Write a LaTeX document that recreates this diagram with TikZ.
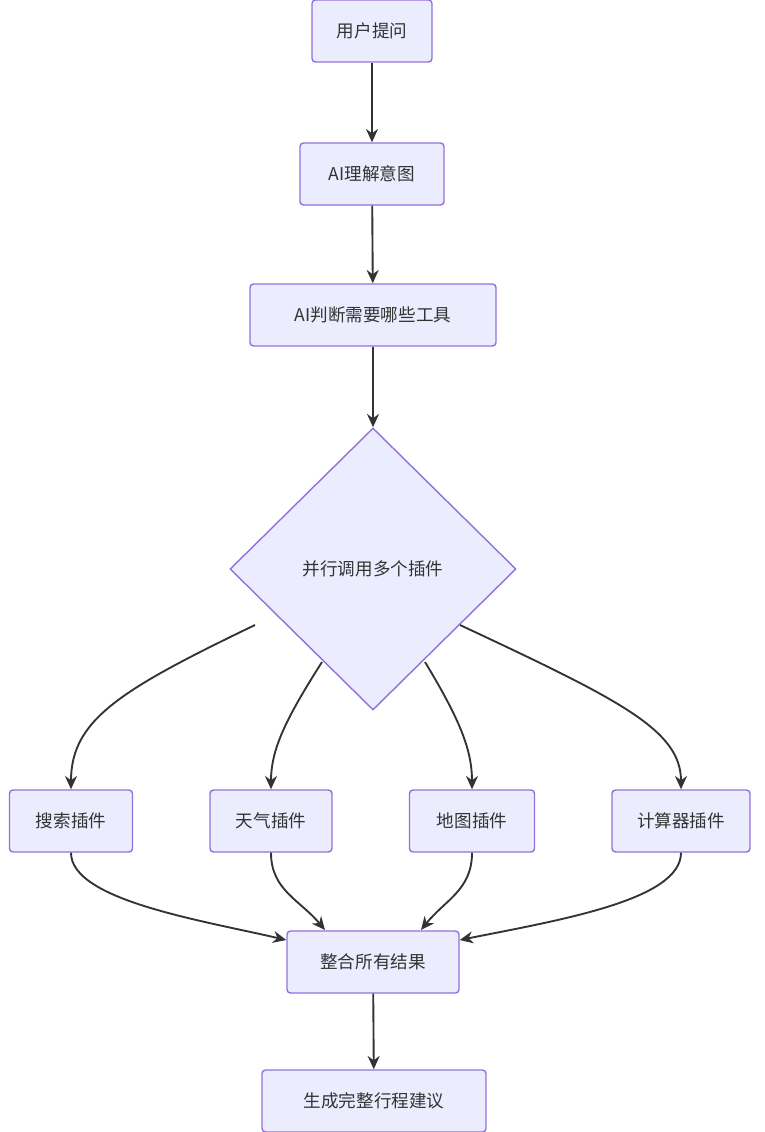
\documentclass[tikz,border=0pt]{standalone}
\usepackage{fontspec}
\setmainfont{Noto Sans CJK SC}
\usepackage{tikz}
\usetikzlibrary{shapes.geometric, arrows.meta, positioning, calc}
\definecolor{boxfill}{RGB}{236,236,255}
\definecolor{boxline}{RGB}{147,112,219}
\definecolor{linkcolor}{RGB}{51,51,51}
\tikzset{
  flowbox/.style={draw=boxline, fill=boxfill, line width=1.2pt, rounded corners=3pt, font=\fontsize{15}{18}\selectfont, text=linkcolor, minimum height=1.86cm, inner xsep=0.6cm},
  link/.style={draw=linkcolor, line width=1.6pt, -{Stealth[length=4mm,width=3.6mm]}}
}
\begin{document}
\begin{tikzpicture}[x=0.03cm, y=-0.03cm]
    \useasboundingbox (0,0) rectangle (764,1132);
    % Ablauf oben
    \node[flowbox, minimum width=3.6cm] (ask) at (372,31) {用户提问};
    \node[flowbox, minimum width=4.32cm] (intent) at (372,174) {AI理解意图};
    \node[flowbox, minimum width=7.38cm] (tools) at (373,315) {AI判断需要哪些工具};
    \node[diamond, draw=boxline, fill=boxfill, line width=1.2pt, minimum width=8.58cm, minimum height=8.46cm, inner sep=0pt, font=\fontsize{15}{18}\selectfont, text=linkcolor] (call) at (373,569) {并行调用多个插件};

    % Plugins
    \node[flowbox, minimum width=3.69cm] (search) at (71,821) {搜索插件};
    \node[flowbox, minimum width=3.66cm] (weather) at (271,821) {天气插件};
    \node[flowbox, minimum width=3.75cm] (map) at (472,821) {地图插件};
    \node[flowbox, minimum width=4.14cm] (calc) at (681,821) {计算器插件};

    % Ende
    \node[flowbox, minimum width=5.16cm] (merge) at (373,962) {整合所有结果};
    \node[flowbox, minimum width=6.72cm] (plan) at (374,1101) {生成完整行程建议};

    \draw[link] (ask) -- (intent);
    \draw[link] (intent) -- (tools);
    \draw[link] (tools) -- (call);

    \draw[link] (255,625) .. controls (120,690) and (71,720) .. (search.north);
    \draw[link] (322,662) .. controls (285,720) and (271,750) .. (weather.north);
    \draw[link] (425,662) .. controls (460,720) and (472,750) .. (map.north);
    \draw[link] (460,625) .. controls (620,700) and (681,730) .. (calc.north);

    \draw[link] (search.south) .. controls (71,900) and (200,920) .. (merge.west |- 0,940);
    \draw[link] (weather.south) .. controls (271,890) and (300,900) .. (325,930);
    \draw[link] (map.south) .. controls (472,890) and (445,900) .. (421,930);
    \draw[link] (calc.south) .. controls (681,900) and (560,920) .. (merge.east |- 0,940);
    \draw[link] (merge) -- (plan);
\end{tikzpicture}
\end{document}
